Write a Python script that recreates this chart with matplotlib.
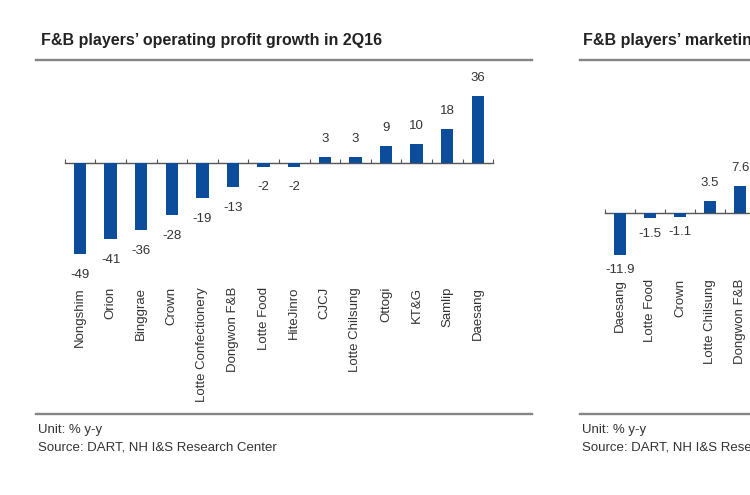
import matplotlib.pyplot as plt
import matplotlib.transforms as mtransforms

plt.rcParams['font.family'] = ['Liberation Sans', 'DejaVu Sans']

# left chart: operating profit growth 2Q16
op_names = ["Nongshim", "Orion", "Binggrae", "Crown", "Lotte Confectionery",
            "Dongwon F&B", "Lotte Food", "HiteJinro", "CJCJ", "Lotte Chilsung",
            "Ottogi", "KT&G", "Samlip", "Daesang"]
op_values = [-49, -41, -36, -28, -19, -13, -2, -2, 3, 3, 9, 10, 18, 36]
op_labels = ["-49", "-41", "-36", "-28", "-19", "-13", "-2", "-2", "3", "3",
             "9", "10", "18", "36"]

# right chart (cropped in the reference)
mk_names = ["Daesang", "Lotte Food", "Crown", "Lotte Chilsung", "Dongwon F&B"]
mk_values = [-11.9, -1.5, -1.1, 3.5, 7.6]
mk_labels = ["-11.9", "-1.5", "-1.1", "3.5", "7.6"]

W, H = 750, 495
BLUE = "#0b4d9a"
TXT = "#333333"
LINE = "#858585"

fig = plt.figure(figsize=(W / 100, H / 100), dpi=100)


def px_axes(x0, x1, ytop, ybot):
    return fig.add_axes([x0 / W, 1 - ybot / H, (x1 - x0) / W, (ybot - ytop) / H])


def draw_bars(ax, names, values, labels, label_top_px, ybot_px, ytop_px,
              pos_off=13, neg_off=-15):
    pos = list(range(len(names)))
    ax.bar(pos, values, width=0.4, color=BLUE, zorder=3)
    for p, v, lab in zip(pos, values, labels):
        off = pos_off if v >= 0 else neg_off
        ax.annotate(lab, (p, v), xytext=(0, off), textcoords="offset points",
                    ha="center", va="center", fontsize=9.5, color=TXT)
    # category labels, rotated, top aligned
    frac = 1 - (label_top_px - ytop_px) / (ybot_px - ytop_px)
    trans = mtransforms.blended_transform_factory(ax.transData, ax.transAxes)
    for p, n in zip(pos, names):
        ax.text(p, frac, n, rotation=90, ha="center", va="top", fontsize=9.5,
                color=TXT, transform=trans, clip_on=False)
    for s in ["top", "right", "left"]:
        ax.spines[s].set_visible(False)
    ax.spines["bottom"].set_position(("data", 0))
    ax.spines["bottom"].set_color("#555555")
    ax.spines["bottom"].set_linewidth(1.0)
    ax.set_xticks([p - 0.5 for p in pos] + [pos[-1] + 0.5])
    ax.tick_params(axis="x", direction="in", length=3, color="#555555",
                   labelbottom=False)
    ax.set_yticks([])
    ax.patch.set_visible(False)


# left chart
axl = px_axes(64.7, 493.1, 90, 260)
draw_bars(axl, op_names, op_values, op_labels, 287, 260, 90)
axl.set_xlim(-0.5, 13.5)
axl.set_ylim(-52.2, 39.2)

# right chart, runs off the right edge
axr = px_axes(605, 785, 90, 260)
draw_bars(axr, mk_names, mk_values, mk_labels, 279, 260, 90, neg_off=-11)
axr.set_xlim(-0.5, 5.5)
axr.set_ylim(-47 / 3.5, 123 / 3.5)


def fx(x):
    return x / W


def fy(y):
    return 1 - y / H


fig.text(fx(41), fy(40), "F&B players\u2019 operating profit growth in 2Q16",
         fontsize=11.5, fontweight="bold", color="#222222", va="center")
fig.text(fx(583), fy(40), "F&B players\u2019 marketing expense growth in 2Q16",
         fontsize=11.5, fontweight="bold", color="#222222", va="center")

for x0, x1 in [(36, 532), (580, 760)]:
    for y in (60, 414):
        fig.add_artist(plt.Line2D([fx(x0), fx(x1)], [fy(y), fy(y)],
                                  color=LINE, linewidth=1.7))

for x in (38, 582):
    fig.text(fx(x), fy(430), "Unit: % y-y", fontsize=9.5, color=TXT, va="center")
    fig.text(fx(x), fy(447), "Source: DART, NH I&S Research Center",
             fontsize=9.5, color=TXT, va="center")

fig.savefig("out.png", dpi=100)
